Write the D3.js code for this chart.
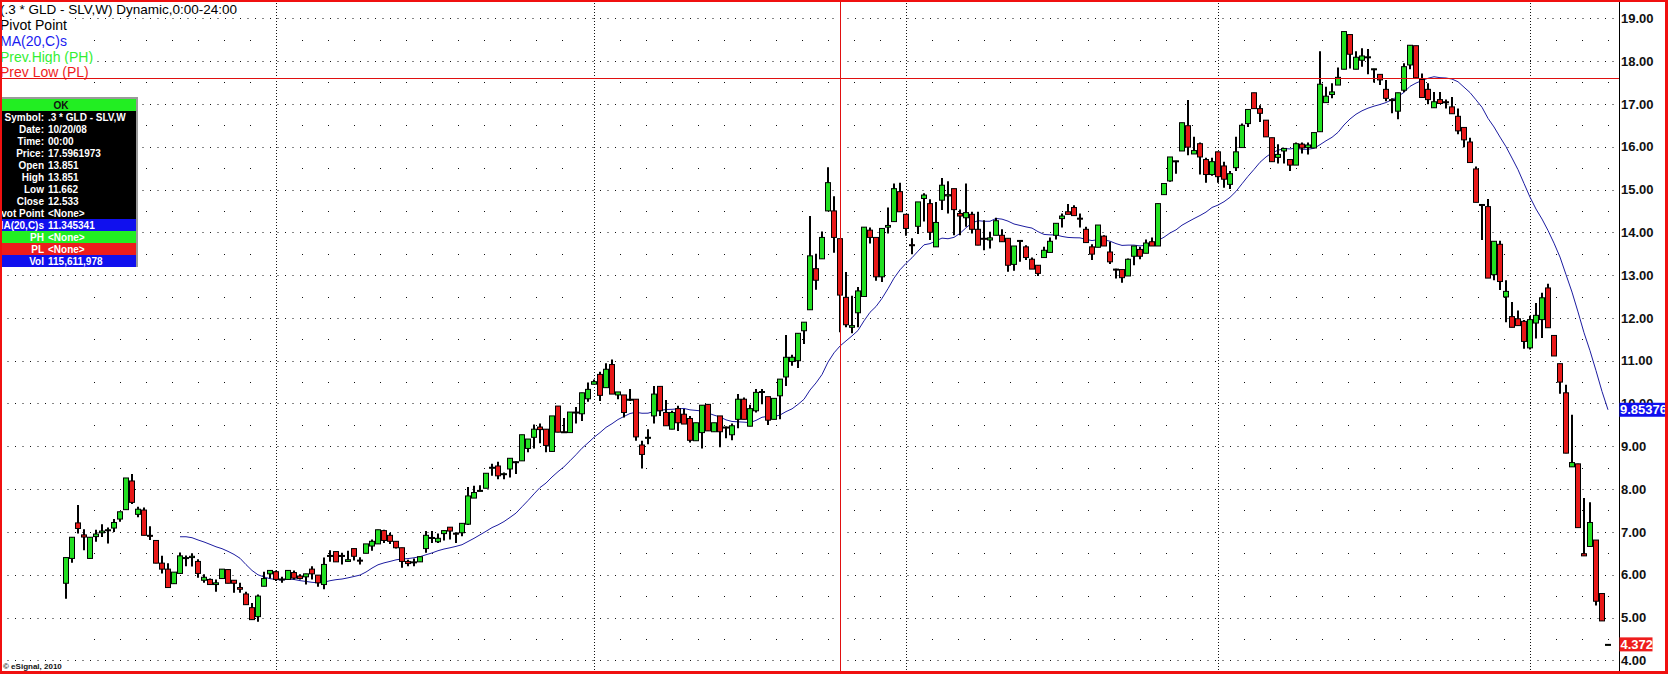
<!DOCTYPE html>
<html><head><meta charset="utf-8">
<script src="https://cdn.jsdelivr.net/npm/d3@7"></script>
<style>
html,body{margin:0;padding:0;background:#fff;overflow:hidden}
svg{display:block}
text{font-family:"Liberation Sans",Arial,sans-serif}
</style></head><body>
<svg id="chart" width="1668" height="674"></svg>
<script>
// ---- DATA (weekly bars of .3 * GLD - SLV) ----
const openV = [
5.80,6.38,7.21,6.93,6.38,6.89,6.98,7.04,7.09,7.30,
7.52,8.19,7.41,7.51,6.92,6.80,6.27,6.13,5.79,6.03,
6.39,6.40,6.31,5.87,5.89,5.77,5.91,6.12,5.87,5.70,
5.55,5.23,5.02,5.73,6.02,6.07,5.90,5.89,6.05,5.97,
5.95,6.13,5.99,5.77,6.45,6.54,6.45,6.31,6.61,6.34,
6.50,6.67,6.72,7.03,6.92,6.78,6.63,6.31,6.29,6.30,
6.61,6.85,6.77,6.96,7.11,6.97,6.98,7.18,7.79,7.96,
8.02,8.49,8.54,8.35,8.47,8.62,8.66,8.95,9.21,9.45,
9.40,8.88,9.94,9.34,9.32,9.79,9.76,10.11,10.45,10.68,
10.37,10.91,10.20,10.20,10.08,10.10,9.03,9.20,9.71,10.40,
9.79,9.40,9.88,9.75,9.65,9.13,9.32,9.98,9.34,9.71,
9.45,9.27,9.63,10.10,9.47,9.83,10.27,10.16,9.63,10.18,
10.62,10.98,11.00,11.70,12.19,13.15,13.38,14.50,14.50,13.851,
12.48,11.78,12.12,12.50,14.05,13.88,12.96,14.12,14.25,14.95,
14.42,13.71,14.14,14.79,14.67,13.66,14.75,14.85,15.02,14.44,
14.34,14.42,14.07,13.86,13.82,13.93,13.93,13.86,13.25,13.80,
13.66,13.37,13.23,13.41,13.53,13.93,14.32,14.48,14.58,14.33,
14.07,13.66,13.65,13.91,13.54,13.14,13.13,12.98,13.44,13.60,
13.51,13.78,13.68,14.88,15.20,15.66,15.90,16.49,15.83,16.07,
15.70,15.35,15.88,15.55,15.12,15.51,15.98,16.54,17.26,16.89,
16.62,16.21,15.75,15.90,15.70,15.57,16.06,15.98,15.97,16.35,
17.03,17.22,17.44,17.81,18.62,17.81,18.02,18.08,17.81,17.69,
17.34,17.10,16.83,17.32,17.91,18.36,17.57,17.34,16.91,17.10,
17.05,16.93,16.71,16.45,16.11,15.48,14.65,14.60,13.01,13.72,
12.49,12.03,11.98,11.92,11.30,11.88,11.96,12.70,11.59,10.93,
10.25,8.52,8.59,6.49,6.66,6.81,5.56,4.372];
const highV = [
6.40,6.88,7.63,7.06,6.88,7.05,7.18,7.10,7.30,7.47,
8.26,8.35,7.59,7.57,7.13,6.80,6.44,6.27,6.06,6.52,
6.45,6.50,6.36,6.01,5.91,5.89,6.13,6.12,5.87,5.81,
5.60,5.34,5.54,6.07,6.10,6.10,5.95,6.10,6.10,6.01,
6.02,6.20,5.99,6.40,6.57,6.54,6.51,6.56,6.61,6.41,
6.72,6.82,7.05,7.05,6.98,6.78,6.63,6.35,6.38,6.42,
7.02,7.02,6.96,7.03,7.11,6.99,7.20,8.05,8.08,8.09,
8.37,8.59,8.64,8.39,8.72,8.65,9.27,9.17,9.51,9.53,
9.40,9.71,9.94,9.66,9.80,9.92,10.25,10.49,10.56,10.74,
10.94,11.03,10.27,10.20,10.34,10.10,9.13,9.40,10.41,10.40,
10.08,9.83,9.95,9.87,9.71,9.55,9.96,9.99,9.55,9.71,
9.46,9.53,10.22,10.14,9.97,10.34,10.34,10.16,10.12,10.57,
11.60,11.14,11.64,11.90,14.38,13.50,14.02,15.52,14.84,13.851,
13.07,12.52,12.72,14.12,14.11,13.88,14.09,14.58,15.14,15.16,
14.42,13.86,14.71,14.91,14.77,14.71,15.27,15.19,15.02,14.53,
15.14,14.48,14.48,14.28,14.01,14.34,14.07,13.86,13.68,13.81,
13.70,13.41,13.23,13.66,13.88,14.21,14.44,14.66,14.63,14.44,
14.13,13.72,14.17,13.93,13.78,13.15,13.13,13.39,13.68,13.66,
13.83,13.88,14.67,15.14,15.76,15.67,16.56,17.09,16.23,16.10,
15.74,15.74,15.88,15.65,15.43,16.23,16.54,16.87,17.26,16.97,
16.62,16.21,16.06,15.96,15.70,16.10,16.10,16.10,16.33,18.23,
17.40,17.48,17.85,18.69,18.62,18.23,18.30,18.28,17.82,17.69,
17.56,17.13,17.26,17.95,18.37,18.36,17.71,17.48,17.28,17.28,
17.10,17.16,16.89,16.45,16.21,15.54,14.65,14.78,13.79,13.80,
12.88,12.37,12.17,11.95,12.05,12.35,12.59,12.80,11.59,10.93,
10.44,9.74,8.59,7.79,7.69,6.81,5.56,4.372];
const lowV = [
5.44,6.28,6.96,6.57,6.38,6.77,6.88,6.73,7.00,7.24,
7.52,7.65,7.34,6.92,6.81,6.27,6.03,5.70,5.78,6.03,
6.20,6.19,5.93,5.81,5.77,5.60,5.91,5.80,5.58,5.58,
5.30,4.95,4.90,5.73,5.91,5.85,5.81,5.89,5.89,5.89,
5.77,5.89,5.72,5.66,6.30,6.30,6.24,6.30,6.33,6.24,
6.50,6.56,6.72,6.74,6.72,6.61,6.16,6.20,6.20,6.30,
6.51,6.74,6.74,6.80,6.82,6.74,6.90,7.16,7.79,7.95,
8.02,8.31,8.23,8.23,8.27,8.35,8.66,8.86,8.95,9.07,
8.86,8.88,9.33,9.31,9.32,9.53,9.59,10.04,10.45,10.06,
10.37,10.22,10.10,9.67,10.06,9.13,8.48,9.05,9.53,9.71,
9.48,9.40,9.36,9.52,9.09,9.13,8.95,9.36,9.34,8.98,
9.19,9.14,9.42,9.63,9.47,9.79,9.98,9.50,9.63,9.63,
10.41,10.88,10.83,11.39,12.19,12.66,13.38,14.50,13.52,11.662,
11.78,11.64,11.78,12.50,13.74,12.87,12.84,13.97,14.25,14.48,
13.92,13.49,13.96,14.25,13.82,13.66,14.52,14.44,13.93,13.93,
14.13,13.97,13.70,13.58,13.62,13.93,13.78,13.08,13.10,13.31,
13.35,13.14,12.98,13.41,13.53,13.83,14.11,14.42,14.39,14.11,
13.76,13.35,13.65,13.68,13.26,12.92,12.82,12.98,13.23,13.37,
13.51,13.68,13.68,14.88,15.18,15.37,15.90,15.80,15.83,15.35,
15.16,15.32,15.16,15.04,15.01,15.43,15.98,16.46,16.89,16.58,
16.23,15.65,15.61,15.61,15.43,15.57,15.84,15.82,15.97,16.35,
17.03,17.13,17.44,17.81,17.83,17.81,17.87,17.69,17.50,17.44,
17.06,16.78,16.64,17.27,17.81,17.61,17.15,16.99,16.91,17.01,
16.89,16.77,16.29,15.99,15.63,14.70,13.82,12.93,12.88,12.65,
11.90,11.78,11.82,11.28,11.26,11.52,11.53,11.77,11.11,10.23,
8.84,8.52,7.10,6.44,6.66,5.28,4.92,4.372];
const closeV = [
6.40,6.875,7.08,6.88,6.875,6.95,7.02,7.05,7.22,7.47,
8.26,7.69,7.53,6.92,6.91,6.27,6.13,5.70,6.06,6.44,
6.40,6.43,6.03,5.94,5.77,5.81,6.13,5.80,5.80,5.66,
5.30,4.95,5.50,5.91,6.10,5.89,5.88,6.10,5.92,5.91,
6.02,6.02,5.81,6.24,6.44,6.30,6.43,6.35,6.43,6.33,
6.72,6.78,7.05,6.80,6.78,6.63,6.31,6.26,6.30,6.42,
6.92,6.87,6.85,7.03,7.02,6.96,7.20,7.84,7.92,7.97,
8.37,8.51,8.31,8.36,8.72,8.64,9.27,9.17,9.40,9.39,
9.02,9.71,9.33,9.33,9.80,9.80,10.25,10.33,10.51,10.19,
10.80,10.22,10.27,9.79,10.10,9.22,8.81,9.21,10.22,9.83,
9.48,9.79,9.55,9.52,9.14,9.55,9.96,9.36,9.55,9.34,
9.44,9.48,10.10,9.63,9.88,10.26,10.28,9.61,10.12,10.57,
11.08,11.08,11.64,11.90,13.45,12.88,13.88,15.16,13.88,12.533,
11.84,11.82,12.63,14.12,13.88,12.96,14.09,14.16,15.02,14.48,
14.09,13.70,14.71,14.87,14.00,14.23,15.10,14.88,14.53,14.38,
14.46,14.07,13.70,13.85,13.87,14.27,13.78,13.23,13.68,13.81,
13.41,13.14,13.04,13.58,13.79,14.21,14.38,14.42,14.39,14.32,
13.76,13.49,14.17,13.68,13.31,13.12,12.94,13.37,13.68,13.44,
13.75,13.68,14.67,15.14,15.76,15.67,16.56,15.99,15.91,15.76,
15.35,15.65,15.30,15.24,15.37,15.88,16.50,16.87,16.89,16.78,
16.23,15.65,15.82,15.96,15.57,16.07,15.97,16.04,16.33,17.46,
17.18,17.28,17.62,18.69,18.16,18.09,18.12,18.10,17.82,17.56,
17.13,17.08,17.26,17.87,18.37,17.61,17.15,17.10,17.05,17.01,
17.04,16.77,16.37,16.16,15.63,14.70,14.64,12.93,13.79,12.85,
12.62,11.78,11.82,11.45,11.96,12.06,12.47,11.77,11.11,10.50,
8.84,8.62,7.10,6.44,7.22,5.38,4.92,4.372];

const yTicks = [4,5,6,7,8,9,10,11,12,13,14,15,16,17,18,19];
const yearStartWeeks = [35, 88, 140, 192, 244];
const maPeriod = 20;
const cursorWeek = 129;
const cursorPrice = 17.5961973;
const titleText = "(.3 * GLD - SLV,W) Dynamic,0:00-24:00";
const legendNames = ["Pivot Point", "MA(20,C)s", "Prev.High (PH)", "Prev Low (PL)"];
const infoLabels = ["Symbol:", "Date:", "Time:", "Price:", "Open", "High", "Low", "Close", "Pivot Point", "MA(20,C)s", "PH", "PL", "Vol"];
const infoValues = [".3 * GLD - SLV,W", "10/20/08", "00:00", "17.5961973", "13.851", "13.851", "11.662", "12.533", "<None>", "11.345341", "<None>", "<None>", "115,611,978"];
const lastPriceLabel = "4.372";
const maLastLabel = "9.85376";
const copyrightText = "\u00A9 eSignal, 2010";

// ---- DRAWING ----
const W = 1668, H = 674;
const GREEN = "#22e022", RED = "#e81818", BLUE = "#1010ee", MA_COL = "#1c1ca0";
const svg = d3.select("#chart");
const n = closeV.length;
const idx = d3.range(n);
const x = d3.scaleBand().domain(idx).range([63, 63 + 6 * n]).padding(0);
const xc = i => x(i) + x.bandwidth() / 2;
const xw = d3.scaleLinear().domain([0, n - 1]).range([xc(0), xc(n - 1)]);
const y = d3.scaleLinear().domain([4, 19]).range([660.3, 18.3]);
const axisX = 1619.5;

const bars = idx.map(i => ({i, o: openV[i], h: highV[i], l: lowV[i], c: closeV[i]}));
const ma = idx.filter(i => i >= maPeriod - 1)
  .map(i => ({i, v: d3.mean(closeV.slice(i - maPeriod + 1, i + 1))}));

svg.append("rect").attr("width", W).attr("height", H).attr("fill", "#fff");

// grid: whole-number rows
const grid = svg.append("g");
grid.selectAll("line.hr").data(yTicks).join("line")
  .attr("x1", 0).attr("x2", axisX - 1)
  .attr("y1", d => Math.round(y(d)) + 0.5).attr("y2", d => Math.round(y(d)) + 0.5)
  .attr("stroke", "#111").attr("stroke-width", 1).attr("stroke-dasharray", "1,6.5");
// half rows: sparse dots at month positions
const monthW = [];
[yearStartWeeks[0] - 52, ...yearStartWeeks].forEach(ys => {
  for (let k = 1; k < 12; k++) monthW.push(ys + k * 52 / 12);
});
const monthX = monthW.map(w => Math.round(xw(w))).filter(px => px >= 90 && px < axisX - 2);
const halfRows = yTicks.slice(0, -1).map(v => v + 0.5);
const dotData = [];
halfRows.forEach(v => monthX.forEach(px => dotData.push({px, py: Math.round(y(v))})));
grid.selectAll("rect.md").data(dotData).join("rect")
  .attr("x", d => d.px).attr("y", d => d.py).attr("width", 1).attr("height", 1).attr("fill", "#111");
// year lines
grid.selectAll("line.yr").data(yearStartWeeks).join("line")
  .attr("x1", d => xc(d) + 0.5).attr("x2", d => xc(d) + 0.5)
  .attr("y1", 0).attr("y2", 671)
  .attr("stroke", "#111").attr("stroke-width", 1).attr("stroke-dasharray", "1,2");

// moving average
svg.append("path").datum(ma)
  .attr("d", d3.line().x(d => xc(d.i)).y(d => y(d.v)))
  .attr("fill", "none").attr("stroke", MA_COL).attr("stroke-width", 1);

// candles
const cg = svg.append("g");
cg.selectAll("line.wick").data(bars).join("line")
  .attr("x1", d => xc(d.i)).attr("x2", d => xc(d.i))
  .attr("y1", d => y(d.h)).attr("y2", d => y(d.l))
  .attr("stroke", "#000").attr("stroke-width", 2);
cg.selectAll("rect.body").data(bars).join("rect")
  .attr("x", d => xc(d.i) - 2.5).attr("width", 5)
  .attr("y", d => y(Math.max(d.o, d.c)))
  .attr("height", d => Math.max(1, Math.abs(y(d.o) - y(d.c))))
  .attr("fill", d => d.c >= d.o ? GREEN : RED)
  .attr("stroke", "#000").attr("stroke-width", 1);

// crosshair
svg.append("line").attr("x1", xc(cursorWeek) + 0.5).attr("x2", xc(cursorWeek) + 0.5)
  .attr("y1", 0).attr("y2", H).attr("stroke", "#e01010").attr("stroke-width", 1);

// legend lines with white background
const leg = svg.append("g");
const legItems = [
  {t: titleText, c: "#000", b: 14, fs: 13.5},
  {t: legendNames[0], c: "#000", b: 30, fs: 14},
  {t: legendNames[1], c: "#1a1af0", b: 46, fs: 14},
  {t: legendNames[2], c: "#33ee33", b: 62, fs: 14},
  {t: legendNames[3], c: "#ee1c1c", b: 77, fs: 14}
];
legItems.forEach(it => {
  const bg = leg.append("rect").attr("fill", "#fff");
  const t = leg.append("text").attr("x", 0).attr("y", it.b).attr("fill", it.c)
    .attr("font-size", it.fs).text(it.t);
  const bb = t.node().getBBox();
  bg.attr("x", 0).attr("y", it.b - 13).attr("width", bb.width + 3).attr("height", 16.5);
});
svg.append("line").attr("x1", 0).attr("x2", axisX)
  .attr("y1", Math.round(y(cursorPrice)) + 0.5).attr("y2", Math.round(y(cursorPrice)) + 0.5)
  .attr("stroke", "#e01010").attr("stroke-width", 1);

// info box
const box = svg.append("g");
const bx0 = 2, bx1 = 137, by0 = 99, rh = 12;
const clip = svg.append("clipPath").attr("id", "boxclip");
clip.append("rect").attr("x", bx0).attr("y", by0).attr("width", bx1 - bx0).attr("height", rh * 14);
const rowsG = box.append("g").attr("clip-path", "url(#boxclip)");
const rowBg = ["#22ee22", "#000", "#000", "#000", "#000", "#000", "#000", "#000", "#000", "#000", BLUE, "#22ee22", "#ee1c1c", BLUE];
rowsG.selectAll("rect.row").data(rowBg).join("rect")
  .attr("x", bx0).attr("y", (d, k) => by0 + k * rh).attr("width", bx1 - bx0).attr("height", rh)
  .attr("fill", d => d);
rowsG.append("text").attr("x", 61).attr("y", by0 + 9.5).attr("text-anchor", "middle")
  .attr("font-size", 10).attr("font-weight", "bold").attr("fill", "#111").text("OK");
rowsG.selectAll("text.lab").data(infoLabels).join("text")
  .attr("x", 44).attr("y", (d, k) => by0 + (k + 1) * rh + 9.5).attr("text-anchor", "end")
  .attr("font-size", 10).attr("font-weight", "bold").attr("fill", "#fff").text(d => d);
rowsG.selectAll("text.val").data(infoValues).join("text")
  .attr("x", 48).attr("y", (d, k) => by0 + (k + 1) * rh + 9.5)
  .attr("font-size", 10).attr("font-weight", "bold").attr("fill", "#fff").text(d => d);
box.append("path").attr("d", `M${bx0},${by0 - 1}H${bx1}V${by0 + rh * 14}`)
  .attr("fill", "none").attr("stroke", "#9a9a9a").attr("stroke-width", 2);

// right axis
svg.append("rect").attr("x", axisX).attr("y", 0).attr("width", W - axisX).attr("height", H).attr("fill", "#fff");
svg.append("line").attr("x1", axisX).attr("x2", axisX).attr("y1", 0).attr("y2", H)
  .attr("stroke", "#000").attr("stroke-width", 1);
svg.selectAll("text.yt").data(yTicks).join("text")
  .attr("x", 1621).attr("y", d => y(d)).attr("dy", "0.36em")
  .attr("font-size", 13).attr("font-weight", "bold").attr("fill", "#111")
  .text(d => d3.format(".2f")(d));

// value tags
const maLast = ma[ma.length - 1].v;
svg.append("rect").attr("x", axisX).attr("y", y(maLast) - 7).attr("width", 47).attr("height", 14).attr("fill", BLUE);
svg.append("text").attr("x", 1620).attr("y", y(maLast)).attr("dy", "0.36em")
  .attr("font-size", 13).attr("font-weight", "bold").attr("fill", "#fff").text(maLastLabel);
const lastC = closeV[n - 1];
svg.append("rect").attr("x", axisX).attr("y", y(lastC) - 7).attr("width", 33).attr("height", 14).attr("fill", "#ee1c1c");
svg.append("text").attr("x", 1620.5).attr("y", y(lastC)).attr("dy", "0.36em")
  .attr("font-size", 13).attr("font-weight", "bold").attr("fill", "#fff").text(lastPriceLabel);

// copyright
svg.append("text").attr("x", 3).attr("y", 669).attr("font-size", 8).attr("font-weight", "bold")
  .attr("fill", "#111").text(copyrightText);

// outer red frame
const fr = "#f01010";
svg.append("rect").attr("x", 0).attr("y", 0).attr("width", W).attr("height", 2).attr("fill", fr);
svg.append("rect").attr("x", 0).attr("y", 0).attr("width", 2).attr("height", H).attr("fill", fr);
svg.append("rect").attr("x", W - 3).attr("y", 0).attr("width", 3).attr("height", H).attr("fill", fr);
svg.append("rect").attr("x", 0).attr("y", H - 3).attr("width", W).attr("height", 3).attr("fill", fr);
</script>
</body></html>
